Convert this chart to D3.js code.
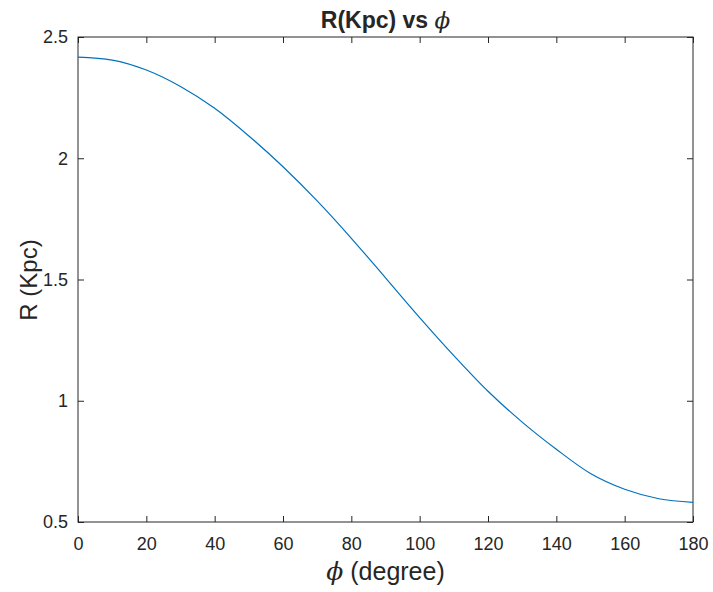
<!DOCTYPE html>
<html>
<head>
<meta charset="utf-8">
<script src="https://cdn.jsdelivr.net/npm/d3@7"></script>
<style>
  body { margin: 0; background: #fff; }
  text { font-family: "Liberation Sans", Arial, sans-serif; fill: #262626; }
</style>
</head>
<body>
<script>
// values
const phi = [0, 10, 20, 30, 40, 50, 60, 70, 80, 90, 100, 110, 120, 130, 140, 150, 160, 170, 180];
const radius = [2.417, 2.405, 2.364, 2.296, 2.206, 2.092, 1.965, 1.824, 1.670, 1.507,
                1.343, 1.186, 1.039, 0.912, 0.800, 0.700, 0.635, 0.596, 0.581];
const xTicks = [0, 20, 40, 60, 80, 100, 120, 140, 160, 180];
const yTicks = [0.5, 1, 1.5, 2, 2.5];

const width = 713, height = 592;
const margin = {top: 37, right: 20, bottom: 70, left: 78};
const innerW = 693 - margin.left;
const innerH = 522 - margin.top;

const svg = d3.select("body").append("svg")
    .attr("width", width)
    .attr("height", height);

const x = d3.scaleLinear().domain([0, 180]).range([0, innerW]);
const y = d3.scaleLinear().domain([0.5, 2.5]).range([innerH, 0]);

const g = svg.append("g")
    .attr("transform", `translate(${margin.left},${margin.top})`);

// ticks point inward (matlab style), box on
const styleAxis = sel => {
  sel.select(".domain").remove();
  sel.selectAll("line").attr("stroke", "#262626");
  sel.selectAll("text").attr("font-size", "18px").attr("fill", "#262626");
};

g.append("g")
    .attr("transform", `translate(0,${innerH})`)
    .call(d3.axisBottom(x).tickValues(xTicks).tickSize(-6).tickPadding(15).tickFormat(d3.format("d")))
    .call(styleAxis);

g.append("g")
    .call(d3.axisTop(x).tickValues(xTicks).tickSize(-6).tickFormat(""))
    .call(styleAxis);

g.append("g")
    .call(d3.axisLeft(y).tickValues(yTicks).tickSize(-6).tickPadding(10).tickFormat(d => d))
    .call(styleAxis);

g.append("g")
    .attr("transform", `translate(${innerW},0)`)
    .call(d3.axisRight(y).tickValues(yTicks).tickSize(-6).tickFormat(""))
    .call(styleAxis);

g.append("rect")
    .attr("width", innerW)
    .attr("height", innerH)
    .attr("fill", "none")
    .attr("stroke", "#262626")
    .attr("stroke-width", 1);

const line = d3.line()
    .x((d, i) => x(phi[i]))
    .y(d => y(d))
    .curve(d3.curveMonotoneX);

g.append("path")
    .datum(radius)
    .attr("fill", "none")
    .attr("stroke", "#0072BD")
    .attr("stroke-width", 1.2)
    .attr("d", line);

// title
const title = svg.append("text")
    .attr("x", margin.left + innerW / 2)
    .attr("y", 28)
    .attr("text-anchor", "middle")
    .attr("font-size", "23px")
    .attr("font-weight", "bold");
title.append("tspan").text("R(Kpc) vs ");
title.append("tspan")
    .attr("font-family", "'DejaVu Serif', serif")
    .attr("font-style", "italic")
    .attr("font-weight", "normal")
    .text("\u03D5");

// x label
const xl = svg.append("text")
    .attr("x", margin.left + innerW / 2)
    .attr("y", 580)
    .attr("text-anchor", "middle")
    .attr("font-size", "25px");
xl.append("tspan")
    .attr("font-family", "'DejaVu Serif', serif")
    .attr("font-style", "italic")
    .text("\u03D5");
xl.append("tspan").text(" (degree)");

// y label
svg.append("text")
    .attr("transform", `translate(37,280) rotate(-90)`)
    .attr("text-anchor", "middle")
    .attr("font-size", "24px")
    .text("R (Kpc)");
</script>
</body>
</html>
